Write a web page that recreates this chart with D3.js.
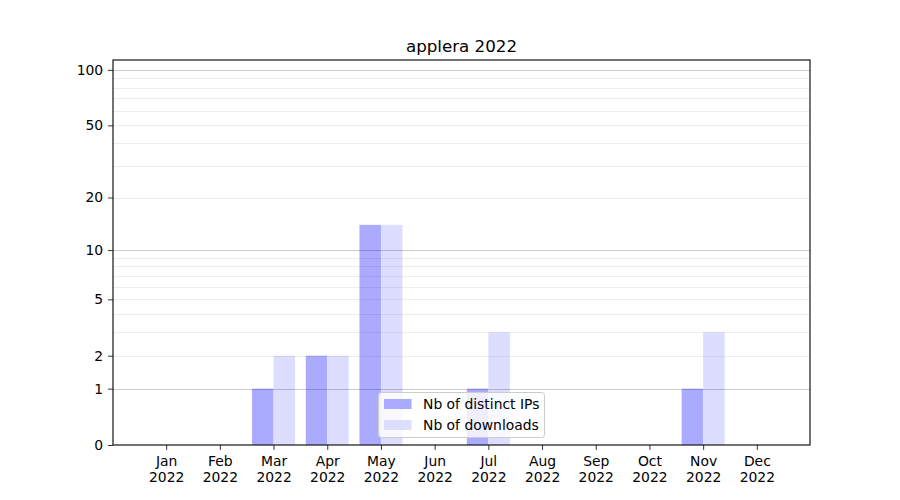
<!DOCTYPE html>
<html>
<head>
<meta charset="utf-8">
<script src="https://cdn.jsdelivr.net/npm/d3@7"></script>
<style>
  body { margin: 0; background: #fff; }
  svg { font-family: "DejaVu Sans", sans-serif; }
</style>
</head>
<body>
<svg id="chart" width="900" height="500"></svg>
<script>
const months = ["Jan", "Feb", "Mar", "Apr", "May", "Jun", "Jul", "Aug", "Sep", "Oct", "Nov", "Dec"];
const year = "2022";
const distinctIPs = [0, 0, 1, 2, 14, 0, 1, 0, 0, 0, 1, 0];
const downloads   = [0, 0, 2, 2, 14, 0, 3, 0, 0, 0, 3, 0];
const yTicks = [0, 1, 2, 5, 10, 20, 50, 100];
const majorGrid = [1, 10, 100];
const minorGrid = [2, 3, 4, 5, 6, 7, 8, 9, 20, 30, 40, 50, 60, 70, 80, 90];
const seriesNames = ["Nb of distinct IPs", "Nb of downloads"];
const colors = ["#aaaaff", "#ddddff"];
const title = "applera 2022";

const svg = d3.select("#chart");
const L = 113, R = 810, T = 60, B = 445;

const x = d3.scaleLinear().domain([-0.99, 11.99]).range([L, R]);
const y = d3.scaleSymlog().constant(1).domain([0, 113]).range([B, T]);
const bw = 0.4;

// bars
const g = svg.append("g");
[distinctIPs, downloads].forEach((vals, si) => {
  g.selectAll(null).data(vals).enter().append("rect")
    .attr("x", (d, i) => x(i - bw + si * bw))
    .attr("width", x(bw) - x(0))
    .attr("y", d => y(d))
    .attr("height", d => y(0) - y(d))
    .attr("fill", colors[si]);
});

// grid on top
svg.append("g").selectAll("line").data(minorGrid).enter().append("line")
  .attr("x1", L).attr("x2", R)
  .attr("y1", d => Math.round(y(d)) + 0.5).attr("y2", d => Math.round(y(d)) + 0.5)
  .attr("stroke", "rgba(0,0,0,0.07)").attr("stroke-width", 1);
svg.append("g").selectAll("line").data(majorGrid).enter().append("line")
  .attr("x1", L).attr("x2", R)
  .attr("y1", d => Math.round(y(d)) + 0.5).attr("y2", d => Math.round(y(d)) + 0.5)
  .attr("stroke", "rgba(0,0,0,0.2)").attr("stroke-width", 1);

// axes
const yAxis = d3.axisLeft(y).tickValues(yTicks).tickFormat(d3.format("d")).tickSize(4.9).tickPadding(4.9);
const yg = svg.append("g").attr("transform", `translate(${L},0)`).call(yAxis);
yg.select(".domain").remove();
yg.selectAll("text").attr("font-size", 13.9).attr("font-family", "DejaVu Sans").attr("fill", "#000");
yg.selectAll("line").attr("stroke", "#000").attr("stroke-width", 0.8);

const xAxis = d3.axisBottom(x).tickValues(d3.range(12)).tickFormat(() => "").tickSize(4.9);
const xg = svg.append("g").attr("transform", `translate(0,${B})`).call(xAxis);
xg.select(".domain").remove();
xg.selectAll("line").attr("stroke", "#000").attr("stroke-width", 0.8);
xg.selectAll(".tick").each(function(d) {
  const t = d3.select(this).append("text")
    .attr("fill", "#000").attr("font-size", 13.9).attr("font-family", "DejaVu Sans")
    .attr("text-anchor", "middle");
  t.append("tspan").attr("x", 0).attr("y", 21).text(months[d]);
  t.append("tspan").attr("x", 0).attr("y", 37).text(year);
});

// frame
svg.append("rect").attr("x", L).attr("y", T).attr("width", R - L).attr("height", B - T)
  .attr("fill", "none").attr("stroke", "#000").attr("stroke-width", 1.1);

// title
svg.append("text").attr("x", (L + R) / 2).attr("y", 52).attr("text-anchor", "middle")
  .attr("font-size", 16.7).attr("fill", "#000").text(title);

// legend
const lg = svg.append("g");
lg.append("rect").attr("x", 378.5).attr("y", 392.5).attr("width", 166).attr("height", 45)
  .attr("rx", 3).attr("fill", "rgba(255,255,255,0.8)").attr("stroke", "#cccccc").attr("stroke-width", 1);
seriesNames.forEach((name, i) => {
  const cy = 404 + i * 21;
  lg.append("rect").attr("x", 384).attr("y", cy - 5).attr("width", 27.5).attr("height", 10).attr("fill", colors[i]);
  lg.append("text").attr("x", 423).attr("y", cy + 5).attr("font-size", 13.9).attr("fill", "#000").text(name);
});
</script>
</body>
</html>
